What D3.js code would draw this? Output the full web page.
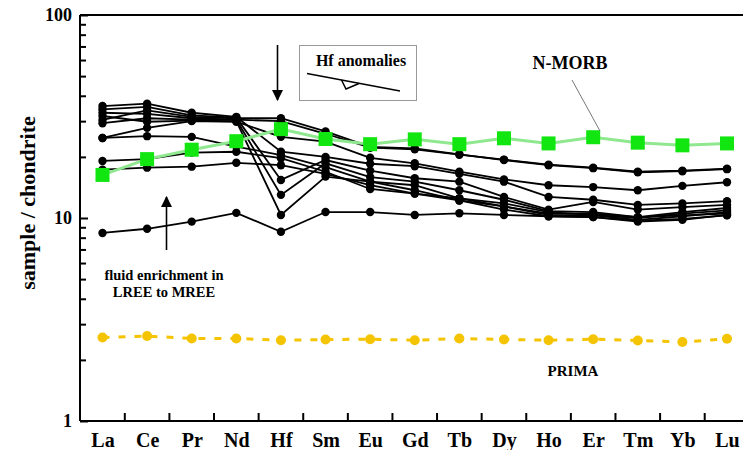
<!DOCTYPE html>
<html><head><meta charset="utf-8">
<script src="https://cdn.jsdelivr.net/npm/d3@7"></script>
<style>body{margin:0;background:#fff} svg{display:block}</style>
</head><body><svg id="c" width="743" height="450"></svg>
<script>
const elements = ["La","Ce","Pr","Nd","Hf","Sm","Eu","Gd","Tb","Dy","Ho","Er","Tm","Yb","Lu"];
// samples (chondrite-normalised)
const s1  = [30.4, 33.9, 31.5, 31.0, 31.0, 26.7, 22.4, 22.0, 20.6, 19.3, 18.2, 17.6, 16.8, 17.0, 17.4];
const s2  = [29.3, 31.0, 30.5, 30.5, 30.0, 26.0, 22.2, 21.8, 20.5, 19.4, 18.3, 17.7, 16.9, 17.1, 17.5];
const s3  = [24.8, 27.8, 30.0, 29.8, 25.1, 23.8, 19.8, 18.6, 16.9, 15.5, 14.5, 14.2, 13.7, 14.4, 15.0];
const s4  = [35.6, 36.6, 33.0, 31.5, 21.2, 20.0, 18.5, 18.0, 16.5, 15.1, 12.7, 12.3, 11.6, 11.8, 12.1];
const s5  = [34.3, 35.3, 32.0, 31.2, 15.4, 19.3, 17.1, 15.7, 15.1, 12.7, 11.0, 12.0, 11.0, 11.3, 11.6];
const s6  = [33.0, 32.6, 31.0, 30.5, 13.0, 18.6, 15.9, 15.1, 13.7, 12.3, 10.8, 10.7, 10.1, 10.7, 11.2];
const s7  = [31.8, 29.8, 30.2, 30.0, 10.35, 16.0, 15.1, 14.5, 12.5, 11.8, 10.7, 10.35, 10.0, 10.5, 10.9];
const s8  = [24.8, 25.3, 25.1, 22.5, 20.4, 17.8, 15.1, 13.7, 12.2, 11.4, 10.35, 10.3, 9.8, 10.2, 10.7];
const s9  = [19.1, 19.5, 21.0, 21.2, 19.7, 16.9, 13.9, 13.2, 12.2, 11.0, 10.2, 10.1, 9.6, 9.8, 10.35];
const s10 = [17.3, 17.7, 17.9, 18.7, 18.2, 16.5, 14.5, 13.2, 12.5, 11.4, 10.5, 10.5, 10.1, 10.3, 10.5];
const s11 = [8.44, 8.85, 9.6, 10.6, 8.56, 10.7, 10.7, 10.35, 10.55, 10.35, 10.2, 10.1, 9.7, 9.9, 10.3];
const samples = [s1, s2, s3, s4, s5, s6, s7, s8, s9, s10, s11];
const nmorb = [16.3, 19.5, 21.7, 23.9, 27.4, 24.5, 23.1, 24.4, 23.1, 24.7, 23.3, 25.0, 23.5, 22.8, 23.3];
const prima = [2.58, 2.62, 2.55, 2.55, 2.50, 2.52, 2.53, 2.50, 2.55, 2.52, 2.50, 2.53, 2.49, 2.45, 2.54];
const yMajor = [1, 10, 100];
const yMinor = [2,3,4,5,6,7,8,9,20,30,40,50,60,70,80,90];

const svg = d3.select("#c");
const font = "'Liberation Serif','Times New Roman',serif";
const x = d3.scalePoint().domain(elements).range([102.5, 727]);
const y = d3.scaleLog().domain([1, 100]).range([421, 15]);
const step = x.step();

// frame
svg.append("line").attr("x1",80).attr("x2",743).attr("y1",15).attr("y2",15).attr("stroke","#000").attr("stroke-width",2);
svg.append("line").attr("x1",80).attr("x2",743).attr("y1",421).attr("y2",421).attr("stroke","#000").attr("stroke-width",2);
svg.append("line").attr("x1",80).attr("x2",80).attr("y1",15).attr("y2",421).attr("stroke","#000").attr("stroke-width",2);

// y axis ticks
const gMaj = svg.append("g").attr("transform","translate(80,0)")
  .call(d3.axisLeft(y).tickValues(yMajor).tickFormat(d3.format("d")).tickSizeInner(-8).tickSizeOuter(0).tickPadding(8));
gMaj.select(".domain").remove();
gMaj.selectAll("line").attr("stroke-width",2);
gMaj.selectAll("text").attr("font-family",font).attr("font-weight","bold").attr("font-size",18).attr("fill","#000");
const gMin = svg.append("g").attr("transform","translate(80,0)")
  .call(d3.axisLeft(y).tickValues(yMinor).tickFormat("").tickSizeInner(-6).tickSizeOuter(0));
gMin.select(".domain").remove();
gMin.selectAll("line").attr("stroke-width",2);

// x axis
const gx = svg.append("g").attr("transform","translate(0,421)")
  .call(d3.axisBottom(x).tickSize(0).tickPadding(12));
gx.select(".domain").remove();
gx.selectAll("text").attr("font-family",font).attr("font-weight","bold").attr("font-size",20).attr("fill","#000");
svg.append("g").selectAll("line").data(elements.slice(1)).join("line")
  .attr("x1", d => x(d) - step/2).attr("x2", d => x(d) - step/2)
  .attr("y1", 421).attr("y2", 413).attr("stroke","#000").attr("stroke-width",2);

// y title
svg.append("text").attr("transform","translate(35,203) rotate(-90)").attr("text-anchor","middle")
  .attr("font-family",font).attr("font-weight","bold").attr("font-size",22).text("sample / chondrite");

const line = d3.line().x((d,i) => x(elements[i])).y(d => y(d));

// black samples
const gs = svg.append("g");
samples.forEach(s => {
  gs.append("path").attr("d", line(s)).attr("fill","none").attr("stroke","#000").attr("stroke-width",1.8);
  gs.selectAll(null).data(s).join("circle").attr("cx",(d,i)=>x(elements[i])).attr("cy",d=>y(d)).attr("r",4.2).attr("fill","#000");
});

// PRIMA
svg.append("path").attr("d", line(prima)).attr("fill","none").attr("stroke","#f5c400").attr("stroke-width",3).attr("stroke-dasharray","7,9");
svg.append("g").selectAll("circle").data(prima).join("circle")
  .attr("cx",(d,i)=>x(elements[i])).attr("cy",d=>y(d)).attr("r",5).attr("fill","#f5c400");

// N-MORB
svg.append("path").attr("d", line(nmorb)).attr("fill","none").attr("stroke","#8fe88f").attr("stroke-width",3);
svg.append("g").selectAll("rect").data(nmorb).join("rect")
  .attr("x",(d,i)=>x(elements[i])-7).attr("y",d=>y(d)-7).attr("width",14).attr("height",14).attr("fill","#11e611");

// annotations
svg.append("text").attr("x",570).attr("y",69).attr("text-anchor","middle").attr("font-family",font)
  .attr("font-weight","bold").attr("font-size",18).text("N-MORB");
svg.append("line").attr("x1",572).attr("y1",80).attr("x2",600).attr("y2",131).attr("stroke","#777").attr("stroke-width",1);
svg.append("text").attr("x",573).attr("y",376).attr("text-anchor","middle").attr("font-family",font)
  .attr("font-weight","bold").attr("font-size",15).text("PRIMA");

// Hf anomalies box
svg.append("rect").attr("x",299.5).attr("y",45.5).attr("width",117).attr("height",55).attr("fill","#fff").attr("stroke","#999").attr("stroke-width",1);
svg.append("text").attr("x",361).attr("y",66).attr("text-anchor","middle").attr("font-family",font)
  .attr("font-weight","bold").attr("font-size",16).text("Hf anomalies");
svg.append("line").attr("x1",307).attr("y1",73.5).attr("x2",400).attr("y2",91).attr("stroke","#000").attr("stroke-width",1.5);
svg.append("path").attr("d","M341.5,80 L346,89 L359,83.5").attr("fill","none").attr("stroke","#000").attr("stroke-width",1.5);

// arrows
svg.append("defs").append("marker").attr("id","ah").attr("viewBox","0 0 10 10").attr("refX",9).attr("refY",5)
  .attr("markerWidth",7).attr("markerHeight",7).attr("orient","auto")
  .append("path").attr("d","M0,0 L10,5 L0,10 z").attr("fill","#000");
svg.append("line").attr("x1",277.5).attr("y1",45).attr("x2",277.5).attr("y2",100).attr("stroke","#000").attr("stroke-width",1.6).attr("marker-end","url(#ah)");
svg.append("line").attr("x1",166.5).attr("y1",250).attr("x2",166.5).attr("y2",197).attr("stroke","#000").attr("stroke-width",1.6).attr("marker-end","url(#ah)");
svg.append("text").attr("x",164).attr("y",280).attr("text-anchor","middle").attr("font-family",font)
  .attr("font-weight","bold").attr("font-size",14.5).text("fluid enrichment in");
svg.append("text").attr("x",164).attr("y",297).attr("text-anchor","middle").attr("font-family",font)
  .attr("font-weight","bold").attr("font-size",14.5).text("LREE to MREE");
</script></body></html>
